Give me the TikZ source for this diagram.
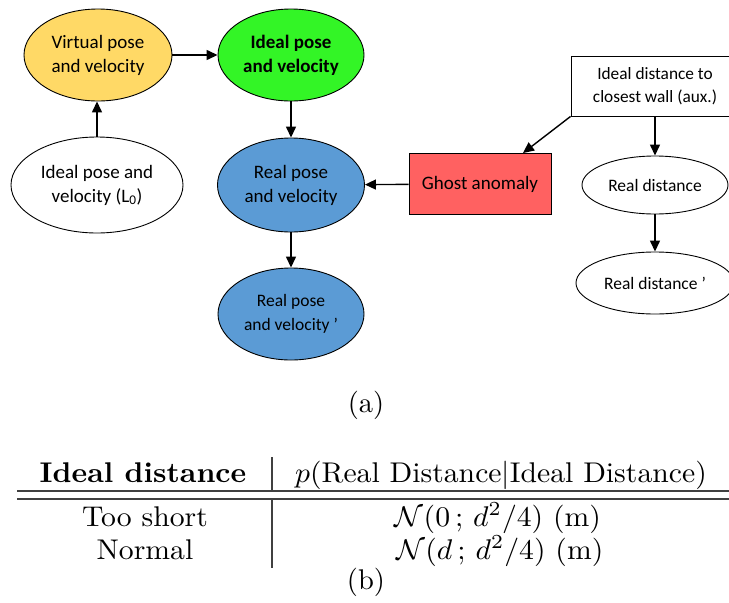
\documentclass[tikz,border=0pt]{standalone}
\usepackage{fontspec}
\newfontfamily\calibri{Carlito}
\usetikzlibrary{arrows.meta,shapes.geometric}

\definecolor{gold}{RGB}{255,217,102}
\definecolor{brightgreen}{RGB}{51,245,38}
\definecolor{steelblue}{RGB}{91,155,213}
\definecolor{salmonred}{RGB}{255,97,97}

% table and caption text is set at 10pt and enlarged as a whole
\newcommand{\tabbig}[1]{\scalebox{2.97}[2.85]{\fontsize{10}{12}\selectfont #1}}
\newcommand{\capbig}[1]{\scalebox{2.85}{\fontsize{10}{12}\selectfont #1}}

\tikzset{
  oval/.style={ellipse, draw=black, line width=0.9pt, inner sep=0pt,
    align=center, font=\calibri\fontsize{19}{24}\selectfont},
  smalloval/.style={oval, font=\calibri\fontsize{17.5}{24}\selectfont},
  boxnode/.style={rectangle, draw=black, line width=0.9pt, inner sep=0pt,
    align=center},
  flow/.style={line width=1.4pt, -{Triangle[length=11pt,width=10pt]}},
  tabtext/.style={anchor=base, inner sep=0pt},
  tabrule/.style={line width=1.1pt, black!75},
}

\begin{document}
\begin{tikzpicture}[x=1pt,y=-1pt]
  \useasboundingbox (0,0) rectangle (729,603);
  \clip (0,0) rectangle (729,603);

  % --- causal graph ---
  \node[oval, fill=gold, minimum width=148pt, minimum height=92pt] (virt) at (98,55)
    {Virtual pose\\and velocity};
  \node[oval, fill=brightgreen, minimum width=146pt, minimum height=92pt,
        font=\calibri\bfseries\fontsize{19}{24}\selectfont] (ideal) at (291,55)
    {Ideal pose\\and velocity};
  \node[oval, fill=white, minimum width=172pt, minimum height=96pt] (init) at (97,185)
    {Ideal pose and\\velocity (L\textsubscript{0})};
  \node[oval, fill=steelblue, minimum width=147pt, minimum height=94pt] (real) at (291,185)
    {Real pose\\and velocity};
  \node[smalloval, fill=steelblue, minimum width=146pt, minimum height=92pt] (realnext) at (291,314)
    {Real pose\\and velocity ’};
  \node[boxnode, fill=salmonred, minimum width=142pt, minimum height=61pt,
        font=\calibri\fontsize{19}{24}\selectfont] (ghost) at (480,184)
    {Ghost anomaly};
  \node[boxnode, fill=white, minimum width=168pt, minimum height=60pt,
        font=\calibri\fontsize{17.3}{23}\selectfont] (wall) at (655,86)
    {Ideal distance to\\closest wall (aux.)};
  \node[smalloval, fill=white, minimum width=146pt, minimum height=58pt] (rdist) at (655,185)
    {Real distance};
  \node[smalloval, fill=white, minimum width=158pt, minimum height=62pt] (rdistnext) at (655,283)
    {Real distance ’};

  \draw[flow] (virt) -- (ideal);
  \draw[flow] (init.north) -- (init.north |- virt.south);
  \draw[flow] (ideal) -- (real);
  \draw[flow] (real) -- (realnext);
  \draw[flow] (ghost) -- (real);
  \draw[flow] (wall.south west) -- ([xshift=43pt]ghost.north);
  \draw[flow] (wall) -- (rdist);
  \draw[flow] (rdist) -- (rdistnext);

  \node[tabtext] (capa) at (366,412) {\capbig{(a)}};

  % --- noise model table ---
  \node[tabtext] (hleft) at (143,482) {\tabbig{\bfseries Ideal distance}};
  \node[tabtext] (hright) at (501,482) {\tabbig{$p(\mathrm{Real\ Distance}|\mathrm{Ideal\ Distance})$}};
  \node[tabtext] (r1left) at (145,526) {\tabbig{Too short}};
  \node[tabtext] (r1right) at (498,526) {\tabbig{$\mathcal{N}(0\,;\, d^2/4)\ (\mathrm{m})$}};
  \node[tabtext] (r2left) at (145,559) {\tabbig{Normal}};
  \node[tabtext] (r2right) at (500,559) {\tabbig{$\mathcal{N}(d\,;\, d^2/4)\ (\mathrm{m})$}};

  \coordinate (ruleA) at (17,491);
  \coordinate (ruleB) at (17,499);
  \draw[tabrule] (ruleA) -- ++(740,0);
  \draw[tabrule] (ruleB) -- ++(740,0);
  \coordinate (vtop) at (272,457);
  \coordinate (vbot) at (272,568);
  \draw[tabrule] (vtop) -- (vtop |- ruleA);
  \draw[tabrule] (vtop |- ruleB) -- (vbot);

  \node[tabtext] (capb) at (366,589) {\capbig{(b)}};
\end{tikzpicture}
\end{document}
